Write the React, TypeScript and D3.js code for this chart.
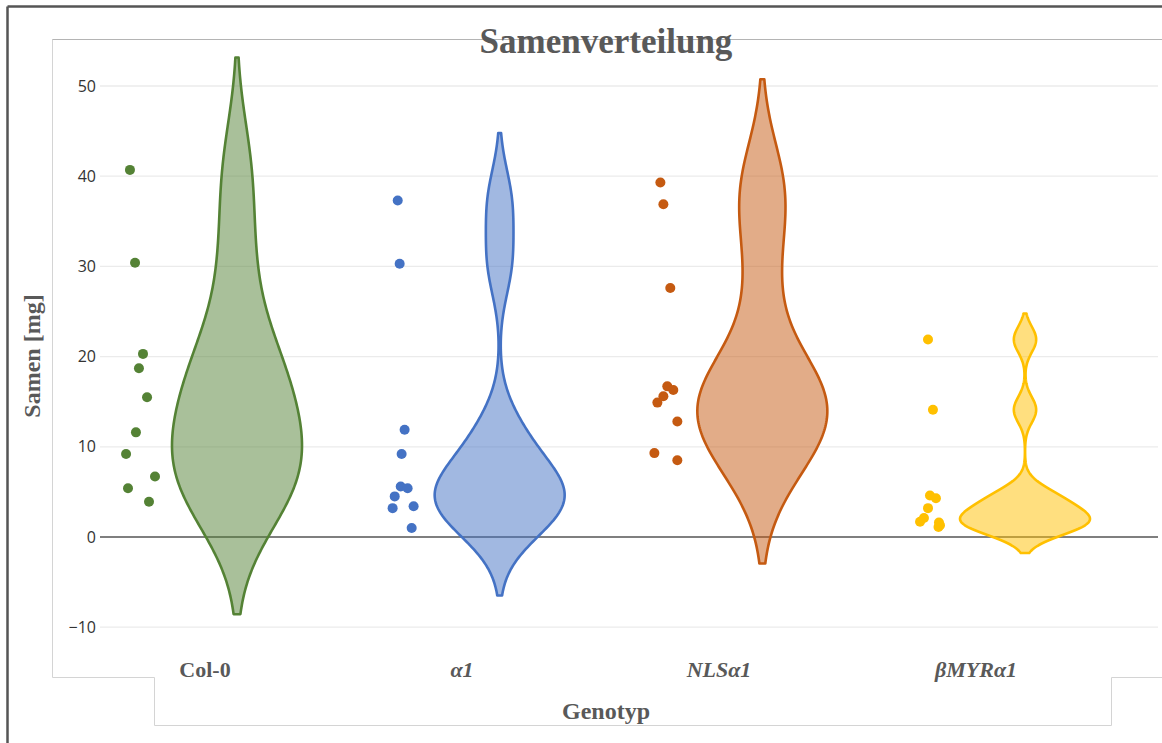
import React from 'react';
import * as d3 from 'd3';

// Genotypes and their seed weights (mg) per plant
const genotypes = ['Col-0', 'α1', 'NLSα1', 'βMYRα1'];
const italicLabel = [false, true, true, true];
const colors = ['#548235', '#4472C4', '#C55A11', '#FFC000'];

const col0Values = [40.7, 30.4, 20.3, 18.7, 15.5, 11.6, 9.2, 6.7, 5.4, 3.9];
const alpha1Values = [37.3, 30.3, 11.9, 9.2, 5.6, 5.4, 4.5, 3.2, 3.4, 1.0];
const nlsValues = [39.3, 36.9, 27.6, 16.7, 16.3, 15.6, 14.9, 12.8, 9.3, 8.5];
const myrValues = [21.9, 14.1, 4.6, 4.3, 3.2, 2.1, 1.7, 1.6, 1.3, 1.1];

// Horizontal spread of the dots, as a fraction of the jitter width
const col0Jitter = [-0.67, -0.33, 0.2, -0.07, 0.47, -0.27, -0.93, 1.0, -0.8, 0.6];
const alpha1Jitter = [-0.33, -0.2, 0.13, -0.07, -0.13, 0.33, -0.53, -0.67, 0.73, 0.6];
const nlsJitter = [-0.33, -0.13, 0.33, 0.13, 0.53, -0.13, -0.53, 0.8, -0.73, 0.8];
const myrJitter = [0, 0.33, 0.13, 0.53, 0, -0.27, -0.53, 0.73, 0.8, 0.7];

const seriesValues = [col0Values, alpha1Values, nlsValues, myrValues];
const seriesJitter = [col0Jitter, alpha1Jitter, nlsJitter, myrJitter];

const yTicks = [-10, 0, 10, 20, 30, 40, 50];

const W = 1162;
const H = 743;

const serif = '"Liberation Serif", "Times New Roman", serif';
const sans = '"Open Sans", "Noto Sans", sans-serif';

const y = d3.scaleLinear().domain([-10, 50]).range([627.2, 86]);
const xViolin = d3.scalePoint<string>().domain(genotypes).range([237, 1025]);
const xLabel = d3.scalePoint<string>().domain(genotypes).range([205, 976]);
const jitter = d3.scaleLinear().domain([-1, 1]).range([-15, 15]);
const dotOffset = -97;
const violinHalfWidth = 65;

// Gaussian KDE with Silverman bandwidth, spanning two bandwidths past the data
function violinPath(values: number[], cx: number): string {
  const sorted = values.slice().sort(d3.ascending);
  const n = sorted.length;
  const sd = d3.deviation(sorted) as number;
  const iqr = (d3.quantile(sorted, 0.75) as number) - (d3.quantile(sorted, 0.25) as number);
  const bw = 1.059 * Math.min(sd, iqr / 1.349) * Math.pow(n, -0.2);
  const lo = sorted[0] - 2 * bw;
  const hi = sorted[n - 1] + 2 * bw;
  const steps = 240;
  const pts = d3.range(steps + 1).map((i) => {
    const v = lo + ((hi - lo) * i) / steps;
    const d =
      d3.sum(sorted, (s) => Math.exp(-0.5 * ((v - s) / bw) ** 2)) /
      (n * bw * Math.sqrt(2 * Math.PI));
    return { v, d };
  });
  const maxD = d3.max(pts, (p) => p.d) as number;
  const w = d3.scaleLinear().domain([0, maxD]).range([0, violinHalfWidth]);
  const area = d3
    .area<{ v: number; d: number }>()
    .x0((p) => cx - w(p.d))
    .x1((p) => cx + w(p.d))
    .y((p) => y(p.v))
    .curve(d3.curveLinear);
  return area(pts) as string;
}

export default function App() {
  return (
    <svg
      width={W}
      height={H}
      style={{ position: 'absolute', left: 0, top: 0, background: '#fff' }}
    >
      <rect x={0} y={0} width={W} height={H} fill="#fff" />

      {/* outer frame */}
      <line x1={7.5} y1={6.5} x2={W} y2={6.5} stroke="#555" strokeWidth={2.5} />
      <line x1={7.5} y1={6.5} x2={7.5} y2={H} stroke="#555" strokeWidth={2.5} />

      {/* chart panel outline */}
      <path
        d={`M${W},39.5 H52.5 V677.5 H154.5 V725.5 H1111.5 V677.5 H${W}`}
        fill="none"
        stroke="#d4d4d4"
        strokeWidth={1}
      />
      <line x1={52.5} y1={39.5} x2={W} y2={39.5} stroke="#b4b4b4" strokeWidth={1} />

      {/* gridlines */}
      {yTicks.map((t) => (
        <line
          key={`g${t}`}
          x1={100}
          x2={1158}
          y1={y(t)}
          y2={y(t)}
          stroke={t === 0 ? '#555' : '#ebebeb'}
          strokeWidth={t === 0 ? 1.6 : 1.3}
        />
      ))}

      {/* tick labels */}
      {yTicks.map((t) => (
        <text
          key={`t${t}`}
          x={96}
          y={y(t)}
          dy="0.35em"
          textAnchor="end"
          fontFamily={sans}
          fontSize={16}
          fill="#333"
        >
          {t < 0 ? `\u2212${Math.abs(t)}` : `${t}`}
        </text>
      ))}

      {/* violins */}
      {genotypes.map((g, i) => (
        <path
          key={`v${g}`}
          d={violinPath(seriesValues[i], xViolin(g) as number)}
          fill={colors[i]}
          fillOpacity={0.5}
          stroke={colors[i]}
          strokeWidth={2.6}
          strokeLinejoin="round"
        />
      ))}

      {/* individual plants */}
      {genotypes.map((g, i) =>
        seriesValues[i].map((v, j) => (
          <circle
            key={`p${g}${j}`}
            cx={(xViolin(g) as number) + dotOffset + jitter(seriesJitter[i][j])}
            cy={y(v)}
            r={5}
            fill={colors[i]}
          />
        ))
      )}

      {/* category labels */}
      {genotypes.map((g, i) => (
        <text
          key={`l${g}`}
          x={xLabel(g) as number}
          y={677}
          textAnchor="middle"
          fontFamily={serif}
          fontWeight="bold"
          fontStyle={italicLabel[i] ? 'italic' : 'normal'}
          fontSize={22}
          fill="#595959"
        >
          {g}
        </text>
      ))}

      {/* titles */}
      <text
        x={606}
        y={53}
        textAnchor="middle"
        fontFamily={serif}
        fontWeight="bold"
        fontSize={35}
        fill="#595959"
      >
        Samenverteilung
      </text>
      <text
        x={606}
        y={719}
        textAnchor="middle"
        fontFamily={serif}
        fontWeight="bold"
        fontSize={24}
        fill="#595959"
      >
        Genotyp
      </text>
      <text
        transform="translate(40,356) rotate(-90)"
        textAnchor="middle"
        fontFamily={serif}
        fontWeight="bold"
        fontSize={24}
        fill="#595959"
      >
        Samen [mg]
      </text>
    </svg>
  );
}
